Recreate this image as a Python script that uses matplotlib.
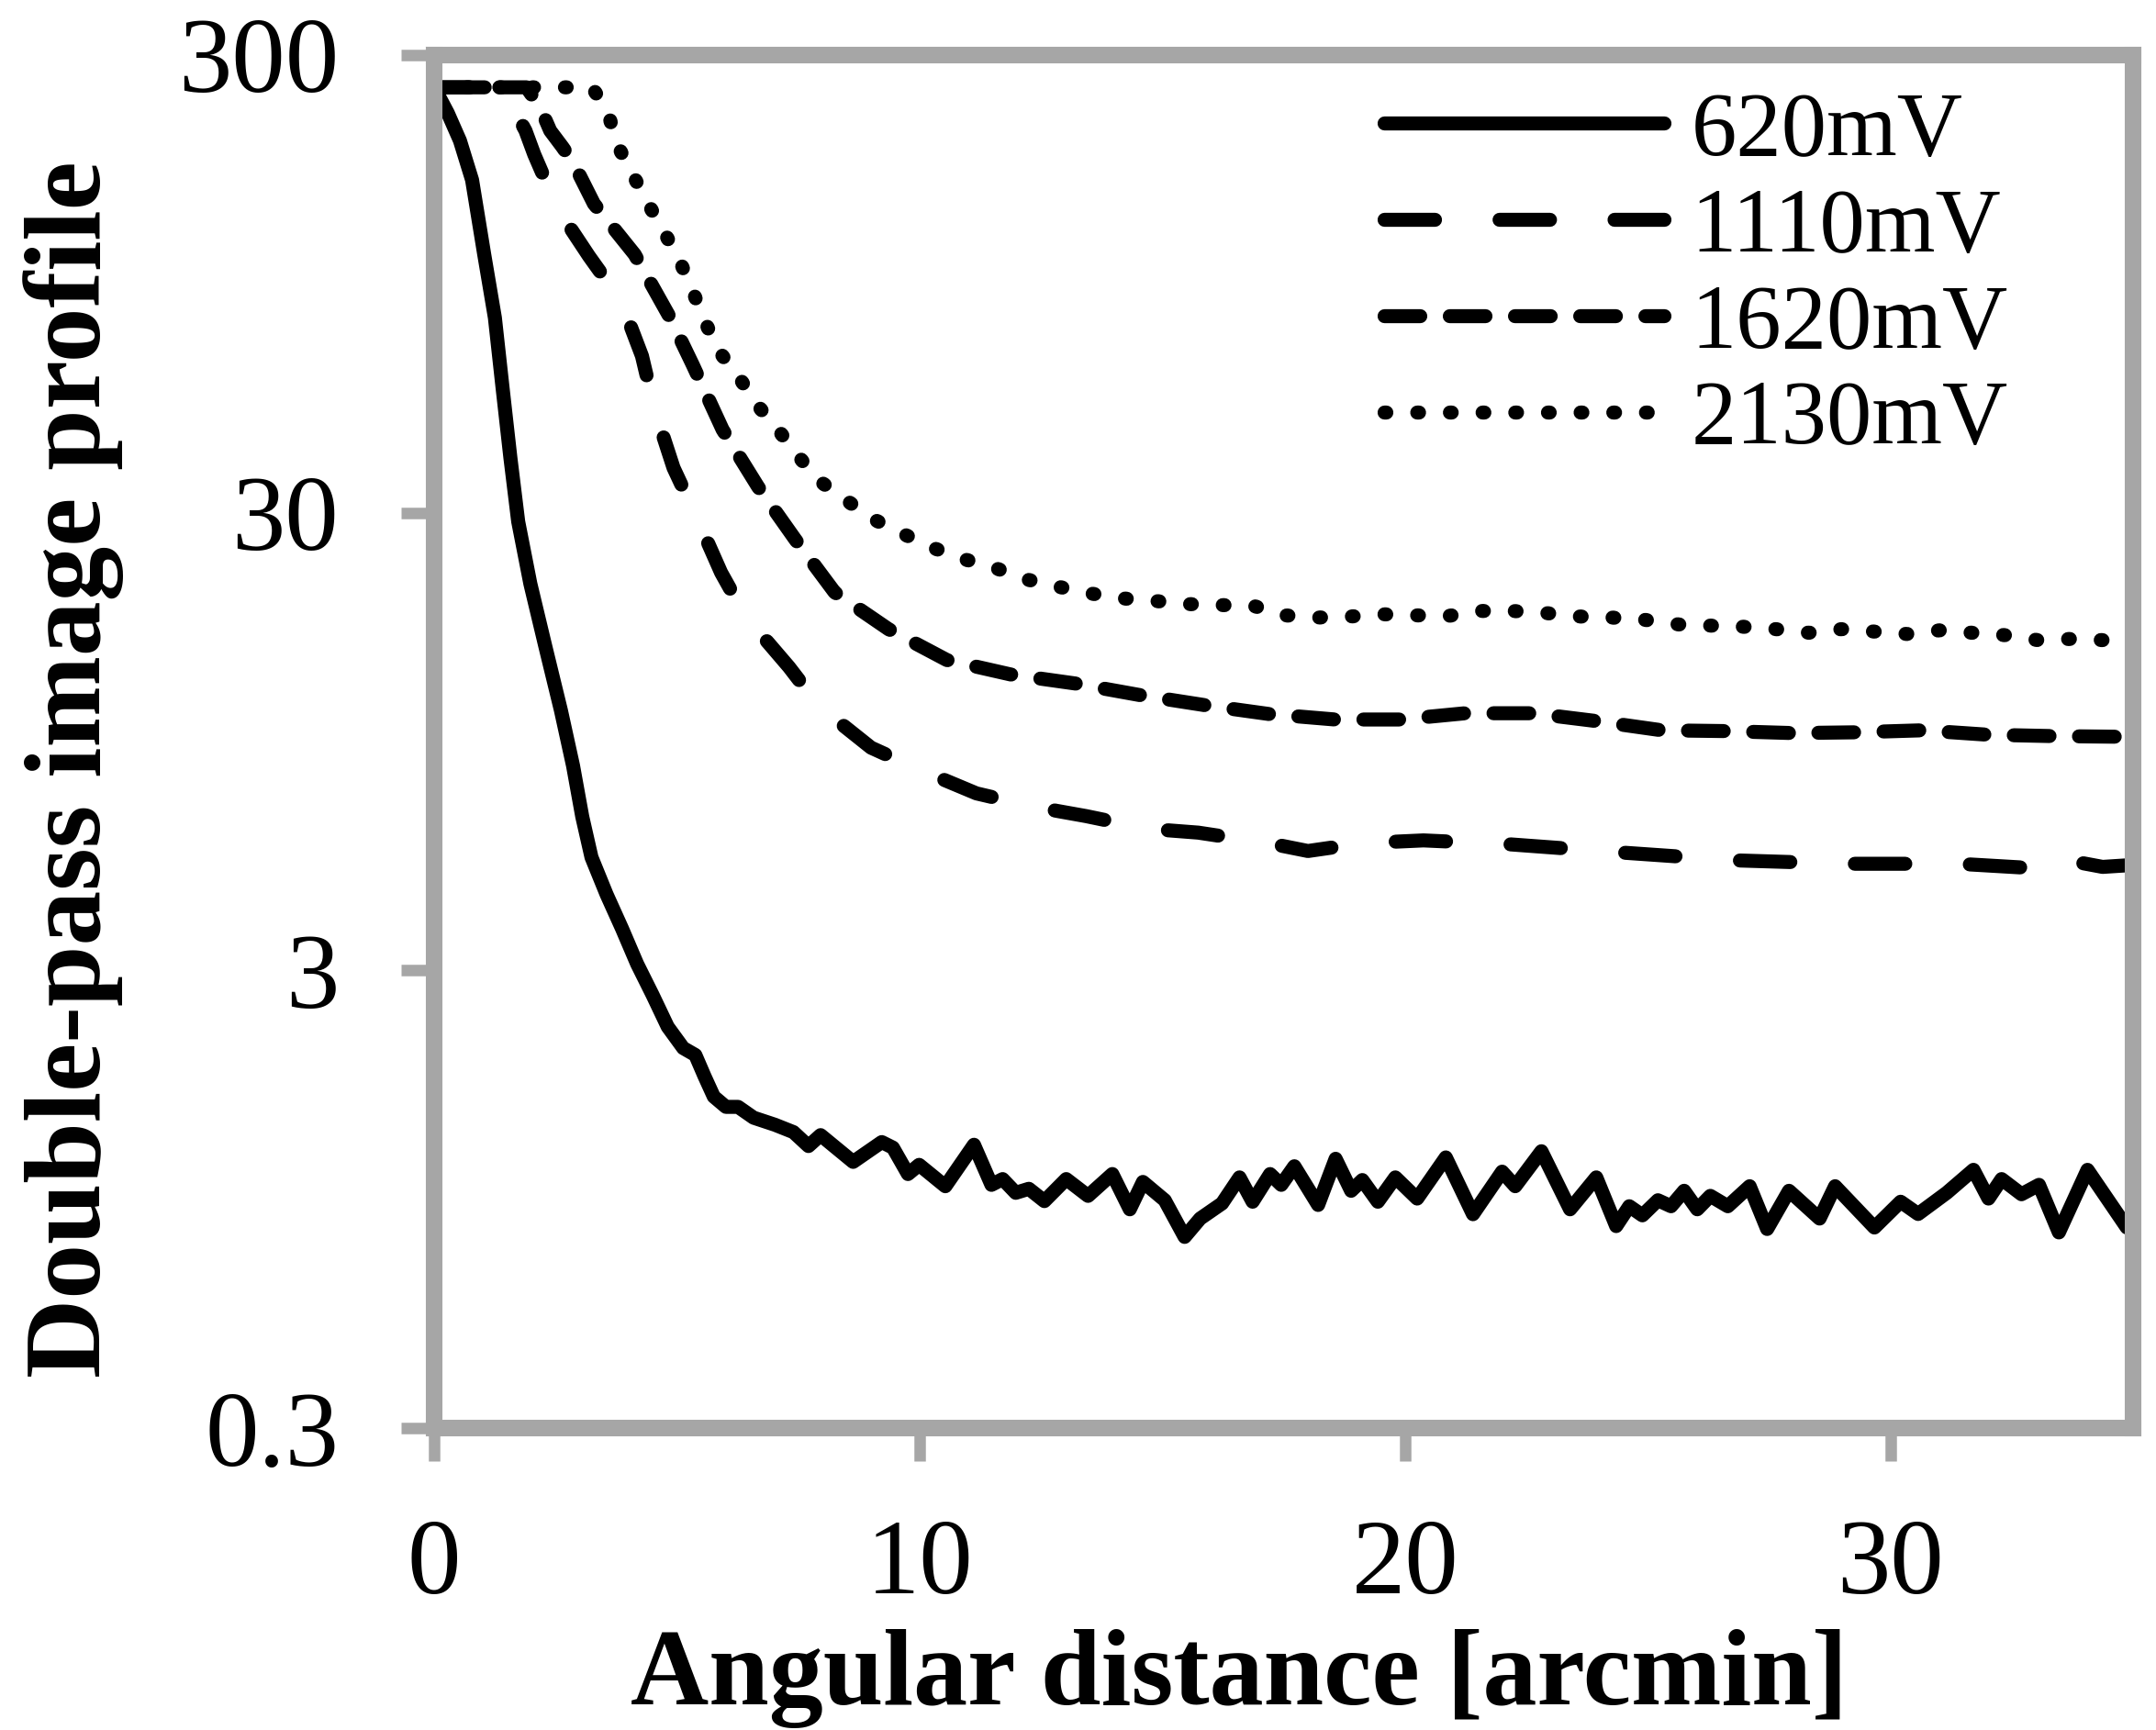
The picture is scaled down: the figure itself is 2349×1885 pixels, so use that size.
import matplotlib
matplotlib.use("Agg")
import matplotlib.pyplot as plt
from matplotlib.ticker import NullLocator

# 620mV (solid)
x_620 = [0, 0.28, 0.53, 0.78, 1.03, 1.25, 1.41, 1.57, 1.73, 1.98, 2.29, 2.61, 2.86, 3.05,
         3.24, 3.55, 3.87, 4.18, 4.5, 4.81, 5.13, 5.38, 5.57, 5.76, 6.01, 6.26, 6.58,
         7.02, 7.4, 7.71, 7.96, 8.63, 9.22, 9.45, 9.76, 9.99, 10.53, 11.12, 11.48, 11.71,
         11.98, 12.25, 12.57, 13.02, 13.47, 13.97, 14.33, 14.6, 15.05, 15.46, 15.78, 16.23,
         16.59, 16.86, 17.22, 17.45, 17.72, 18.21, 18.57, 18.89, 19.12, 19.44, 19.8, 20.25,
         20.84, 21.4, 22.0, 22.27, 22.81, 23.4, 23.94, 24.35, 24.62, 24.89, 25.21, 25.48,
         25.75, 26.02, 26.29, 26.65, 27.1, 27.46, 27.91, 28.54, 28.86, 29.67, 30.21, 30.57,
         31.16, 31.71, 32.02, 32.29, 32.7, 33.06, 33.47, 34.06, 34.87, 35.23]
y_620 = [255, 224, 195, 160, 110, 80, 56, 39.5, 28.7, 21, 15.3, 11.1, 8.4, 6.5,
         5.3, 4.4, 3.7, 3.1, 2.65, 2.26, 2.03, 1.96, 1.76, 1.59, 1.51, 1.51, 1.43,
         1.38, 1.33, 1.24, 1.31, 1.145, 1.265, 1.23, 1.077, 1.128, 1.013, 1.248, 1.02, 1.05,
         0.98, 1.0, 0.94, 1.05, 0.965, 1.077, 0.902, 1.035, 0.944, 0.785, 0.861, 0.929,
         1.059, 0.937, 1.077, 1.02, 1.12, 0.922, 1.163, 0.99, 1.045, 0.937, 1.059, 0.952,
         1.171, 0.88, 1.09, 1.013, 1.208, 0.902, 1.059, 0.829, 0.916, 0.875, 0.944, 0.916,
         0.99, 0.902, 0.965, 0.916, 1.013, 0.817, 0.99, 0.861, 1.013, 0.823, 0.937, 0.881,
         0.98, 1.10, 0.952, 1.05, 0.973, 1.02, 0.803, 1.10, 0.823, 0.95]

# 1110mV (long dashes)
x_1110 = [0, 1.5, 1.57, 1.88, 2.06, 2.55, 3.19, 3.85, 4.28, 4.55, 4.93, 5.42, 5.91, 6.44,
          6.88, 7.31, 7.94, 8.47, 9.0, 9.96, 10.56, 11.17, 12.23, 12.84, 13.43, 14.49,
          15.12, 15.74, 16.8, 17.41, 18.0, 19.12, 19.75, 20.38, 22.13, 24.44, 26.77, 29.11,
          31.4, 33.2, 33.73, 34.37, 35.0]
y_1110 = [255, 255, 236, 205, 182, 138, 109, 87, 66, 50, 37.6, 29.1, 22.2, 17.6,
          15.6, 13.8, 11.3, 10.2, 9.2, 8.27, 7.78, 7.31, 6.88, 6.69, 6.52, 6.18,
          6.07, 6.0, 5.77, 5.63, 5.47, 5.69, 5.73, 5.77, 5.66, 5.43, 5.22, 5.13,
          5.13, 5.0, 5.2, 5.05, 5.1]

# 1620mV (short dashes)
x_1620 = [0, 1.9, 2.17, 2.39, 2.64, 2.86, 3.29, 4.13, 4.86, 5.33, 5.94, 6.67, 7.43, 8.25,
          9.36, 10.56, 11.87, 13.22, 14.51, 15.86, 17.19, 18.56, 19.9, 21.24, 22.63, 23.93,
          25.29, 26.62, 28.0, 29.31, 30.66, 32.0, 33.38, 34.72, 35.0]
y_1620 = [255, 255, 232, 205, 189, 175, 142, 110, 80, 63, 45.6, 34.2, 26.3, 20.1,
          16.7, 14.3, 13.3, 12.7, 12.0, 11.4, 10.9, 10.6, 10.6, 10.94, 10.94, 10.52,
          10.04, 10.0, 9.9, 9.94, 10.04, 9.82, 9.75, 9.72, 9.7]

# 2130mV (dots)
x_2130 = [0, 3.25, 3.57, 3.76, 4.07, 4.39, 4.72, 5.05, 5.31, 5.56, 5.86, 6.27, 6.64, 7.08,
          7.49, 7.92, 8.48, 9.03, 9.62, 10.25, 10.88, 11.52, 12.16, 12.83, 13.5, 14.17,
          14.84, 15.5, 16.18, 16.86, 17.53, 18.18, 18.88, 19.54, 20.22, 20.89, 21.57, 22.22,
          22.92, 23.59, 24.27, 24.94, 25.64, 26.3, 26.98, 27.64, 28.32, 28.99, 29.66, 30.34,
          31.01, 31.68, 32.37, 33.04, 33.73, 34.39, 35.06]
y_2130 = [255, 255, 227, 192, 166, 143, 124, 107, 92.4, 79.2, 67.7, 59.5, 51.8, 45.6,
          40.0, 35.3, 32.0, 29.1, 27.1, 25.2, 23.8, 22.8, 21.5, 20.7, 20.0, 19.5,
          19.25, 18.95, 18.85, 18.8, 17.9, 17.7, 17.8, 18.0, 17.9, 17.85, 18.3, 18.3,
          18.1, 17.8, 17.7, 17.5, 17.1, 17.0, 16.9, 16.7, 16.4, 16.7, 16.5, 16.3,
          16.6, 16.4, 16.2, 15.8, 15.9, 15.8, 15.8]

x_ticks = [0, 10, 20, 30]
y_ticks = [0.3, 3, 30, 300]
y_tick_labels = ["0.3", "3", "30", "300"]

plt.rcParams['font.family'] = ['Liberation Serif', 'DejaVu Serif']

fig = plt.figure(figsize=(23.49, 18.85), dpi=100)
ax = fig.add_axes([0.2014, 0.1745, 0.7880, 0.7937])

grey = '#a6a6a6'
lw = 11

ax.plot(x_620, y_620, color='black', lw=lw, solid_joinstyle='round',
        solid_capstyle='round', label='620mV')
ax.plot(x_1110, y_1110, color='black', lw=lw, ls=(0, (3.6, 4.6)),
        dash_capstyle='round', dash_joinstyle='round', label='1110mV')
ax.plot(x_1620, y_1620, color='black', lw=lw, ls=(0, (2.55, 2.1)),
        dash_capstyle='round', dash_joinstyle='round', label='1620mV')
ax.plot(x_2130, y_2130, color='black', lw=lw, ls=(0, (0.13, 2.2)),
        dash_capstyle='round', dash_joinstyle='round', label='2130mV')

ax.set_yscale('log')
ax.set_xlim(0, 35)
ax.set_ylim(0.3, 300)
ax.set_xticks(x_ticks)
ax.set_yticks(y_ticks, y_tick_labels)
ax.yaxis.set_minor_locator(NullLocator())

for s in ax.spines.values():
    s.set_color(grey)
    s.set_linewidth(13)

ax.tick_params(direction='out', length=26, width=9, color=grey, labelsize=84)
ax.tick_params(axis='x', pad=45)
ax.tick_params(axis='y', pad=49)

# legend top-right, no frame
leg = ax.legend(loc='upper left', bbox_to_anchor=(0.6418, 0.9470),
                bbox_transform=fig.transFigure, frameon=False, fontsize=71,
                handlelength=3.1, handletextpad=0.3, labelspacing=0.15,
                borderpad=0, borderaxespad=0)

fig.text(0.5749, 0.01485, 'Angular distance [arcmin]', ha='center', va='baseline',
         fontsize=85, fontweight='bold')
fig.text(0.0464, 0.5554, 'Double-pass image profile', rotation=90, rotation_mode='anchor',
         ha='center', va='baseline', fontsize=86, fontweight='bold')

fig.savefig('out.png', dpi=100)
